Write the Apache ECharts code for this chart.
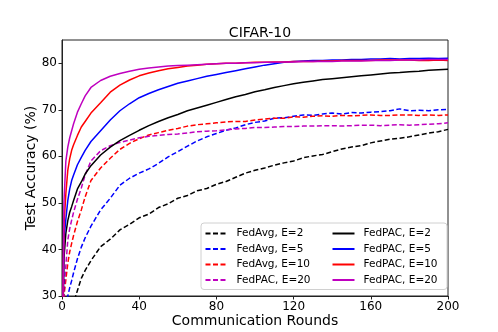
<!DOCTYPE html>
<html>
<head>
<meta charset="utf-8">
<script src="https://cdn.jsdelivr.net/npm/echarts@6/dist/echarts.min.js"></script>
<style>
  html, body { margin: 0; padding: 0; background: #fff; }
  #chart { width: 498px; height: 332px; }
</style>
</head>
<body>
<div id="chart"></div>
<script>
// communication rounds at which the curves were read
const rounds = [0, 1, 2, 3, 4, 5, 6, 8, 10, 12, 15,
  20, 25, 30, 35, 40, 45, 50, 55, 60, 65, 70, 75, 80, 85, 90, 95, 100,
  105, 110, 115, 120, 125, 130, 135, 140, 145, 150, 155, 160, 165, 170,
  175, 180, 185, 190, 195, 200];

// test accuracy (%)
const avgE2 = [10, 14, 18, 21, 24, 26.5, 28.5, 31.2, 33.8, 35.5, 37.6,
  40.6, 42.2, 44.2, 45.4, 46.8, 47.6, 49.0, 49.8, 51.0, 51.6, 52.6, 53.1, 54.0, 54.6, 55.5, 56.4, 57.0,
  57.5, 58.1, 58.6, 59.0, 59.7, 60.1, 60.4, 61.0, 61.6, 62.0, 62.3, 62.9, 63.3, 63.7,
  63.9, 64.2, 64.6, 65.0, 65.3, 65.8];
const avgE5 = [10, 18, 25, 30, 31.8, 33.3, 35, 38, 40.5, 42.5, 45,
  48.5, 51, 53.8, 55.3, 56.4, 57.3, 58.5, 59.9, 61.0, 62.2, 63.3, 64.2, 64.9, 65.6, 66.1, 66.8, 67.3,
  67.6, 68.2, 68.3, 68.6, 68.9, 68.8, 69.1, 69.3, 69.1, 69.4, 69.3, 69.5, 69.6, 69.8,
  70.2, 69.8, 69.9, 69.8, 70.0, 70.1];
const avgE10 = [10, 30, 33.5, 37, 39.5, 41.3, 43, 46, 48.5, 51.3, 54.8,
  57.5, 59.6, 61.5, 62.8, 63.8, 64.6, 65.1, 65.6, 66.0, 66.5, 66.8, 67.0, 67.2, 67.4, 67.5, 67.5, 67.8,
  68.0, 68.2, 68.2, 68.5, 68.4, 68.6, 68.7, 68.6, 68.8, 68.7, 68.8, 68.9, 68.8, 68.8,
  68.9, 68.9, 68.8, 68.9, 68.8, 68.9];
const avgE20 = [10, 31, 36.5, 42, 44.5, 46.3, 48, 50.8, 53.2, 56, 59,
  61.2, 62.3, 63.0, 63.5, 64.0, 64.3, 64.5, 64.7, 64.8, 65.0, 65.3, 65.4, 65.5, 65.7, 65.9, 66.0, 66.2,
  66.2, 66.3, 66.4, 66.4, 66.5, 66.5, 66.6, 66.6, 66.5, 66.6, 66.7, 66.7, 66.6, 66.7,
  66.8, 66.7, 66.8, 66.9, 67.0, 67.2];
const pacE2 = [10, 38, 43.5, 46.2, 48, 49.2, 50.5, 53, 54.5, 56.2, 58,
  60.3, 62.0, 63.4, 64.5, 65.6, 66.6, 67.5, 68.3, 69.0, 69.8, 70.4, 71.0, 71.6, 72.2, 72.8, 73.3, 73.9,
  74.3, 74.8, 75.2, 75.6, 75.9, 76.2, 76.5, 76.7, 76.9, 77.1, 77.3, 77.5, 77.7, 77.9,
  78.0, 78.2, 78.3, 78.5, 78.6, 78.7];
const pacE5 = [10, 42, 46.5, 50.5, 53, 54.8, 56, 58.2, 59.8, 61.3, 63.2,
  65.5, 67.8, 69.8, 71.3, 72.6, 73.5, 74.3, 75.0, 75.7, 76.2, 76.7, 77.2, 77.6, 78.0, 78.4, 78.8, 79.2,
  79.6, 79.9, 80.2, 80.4, 80.5, 80.6, 80.6, 80.7, 80.7, 80.8, 80.8, 80.9, 80.9, 81.0,
  80.9, 81.0, 81.0, 81.1, 81.0, 81.1];
const pacE10 = [10, 45, 52, 57, 59.5, 61.3, 62.5, 64.5, 66.3, 67.5, 69.3,
  71.5, 73.8, 75.3, 76.4, 77.3, 77.9, 78.4, 78.8, 79.1, 79.4, 79.6, 79.8, 79.9, 80.0, 80.0, 80.1, 80.2,
  80.2, 80.3, 80.3, 80.4, 80.4, 80.4, 80.5, 80.5, 80.6, 80.6, 80.6, 80.6, 80.7, 80.7,
  80.7, 80.7, 80.6, 80.6, 80.7, 80.6];
const pacE20 = [10, 50, 59, 62, 64, 65.5, 67, 69.5, 71.3, 73, 74.8,
  76.3, 77.2, 77.8, 78.3, 78.7, 79.0, 79.2, 79.4, 79.5, 79.6, 79.7, 79.8, 79.9, 80.0, 80.0, 80.1, 80.1,
  80.2, 80.2, 80.3, 80.3, 80.4, 80.4, 80.4, 80.4, 80.5, 80.5, 80.5, 80.6, 80.6, 80.6,
  80.7, 80.7, 80.7, 80.8, 80.8, 80.8];

const xTicks = [0, 40, 80, 120, 160, 200];
const yTicks = [30, 40, 50, 60, 70, 80];

const FONT = 'DejaVu Sans';
const MAGENTA = '#bf00bf';

function line(name, values, color, dashed) {
  return {
    name: name,
    type: 'line',
    data: rounds.map((r, i) => [r, values[i]]),
    showSymbol: false,
    symbol: 'none',
    smooth: false,
    clip: true,
    itemStyle: { color: color },
    lineStyle: { color: color, width: 1.5, type: dashed ? [5, 2.5] : 'solid' },
    emphasis: { disabled: true },
    z: dashed ? 2 : 3,
  };
}

const chart = echarts.init(document.getElementById('chart'), null, { renderer: 'canvas' });

const legendCommon = {
  orient: 'vertical',
  top: 228,
  itemWidth: 22,
  itemHeight: 11,
  itemGap: 4.5,
  itemStyle: { opacity: 0 },
  textStyle: { fontFamily: FONT, fontSize: 10.5, color: '#000', padding: [0, 0, 0, 4] },
  padding: 0,
  z: 5,
};

chart.setOption({
  animation: false,
  backgroundColor: '#fff',
  title: {
    text: 'CIFAR-10',
    left: 255,
    top: 21,
    textAlign: 'center',
    textStyle: { fontFamily: FONT, fontSize: 14, fontWeight: 'normal', color: '#000' },
  },
  grid: {
    left: 62, right: 50, top: 40, bottom: 36,
    containLabel: false,
    outerBoundsMode: 'none',
    show: true,
    borderColor: '#222',
    borderWidth: 1,
    backgroundColor: 'transparent',
  },
  legend: [
    Object.assign({}, legendCommon, {
      left: 204.5,
      data: ['FedAvg, E=2', 'FedAvg, E=5', 'FedAvg, E=10', 'FedPAC, E=20 '],
    }),
    Object.assign({}, legendCommon, {
      left: 331.5,
      data: ['FedPAC, E=2', 'FedPAC, E=5', 'FedPAC, E=10', 'FedPAC, E=20'],
    }),
  ],
  graphic: [{
    type: 'rect',
    left: 200.5,
    top: 222.5,
    z: 4,
    shape: { width: 246, height: 66.5, r: 3 },
    style: { fill: 'rgba(255,255,255,0.85)', stroke: '#d0d0d0', lineWidth: 1 },
    silent: true,
  }],
  xAxis: {
    type: 'value',
    min: 0,
    max: 200,
    interval: 40,
    name: 'Communication Rounds',
    nameLocation: 'middle',
    nameGap: 18,
    nameMoveOverlap: false,
    nameTextStyle: { fontFamily: FONT, fontSize: 14, color: '#000', verticalAlign: 'top' },
    axisLine: { show: true, onZero: false, lineStyle: { color: '#222', width: 1 } },
    axisTick: { show: true, inside: false, length: 3.5, lineStyle: { color: '#222' } },
    axisLabel: {
      fontFamily: FONT, fontSize: 12, color: '#000', margin: 5,
      formatter: v => (xTicks.indexOf(v) >= 0 ? String(v) : ''),
    },
    splitLine: { show: false },
  },
  yAxis: {
    type: 'value',
    min: 30,
    max: 85,
    interval: 10,
    name: 'Test Accuracy (%)',
    nameLocation: 'middle',
    nameGap: 24,
    nameMoveOverlap: false,
    nameTextStyle: { fontFamily: FONT, fontSize: 14, color: '#000' },
    axisLine: { show: true, onZero: false, lineStyle: { color: '#222', width: 1 } },
    axisTick: { show: true, inside: false, length: 3.5, lineStyle: { color: '#222' } },
    axisLabel: {
      fontFamily: FONT, fontSize: 12, color: '#000', margin: 5,
      showMaxLabel: false,
      formatter: v => (yTicks.indexOf(v) >= 0 ? String(v) : ''),
    },
    splitLine: { show: false },
  },
  series: [
    line('FedAvg, E=2', avgE2, '#000000', true),
    line('FedAvg, E=5', avgE5, '#0000ff', true),
    line('FedAvg, E=10', avgE10, '#ff0000', true),
    line('FedPAC, E=20 ', avgE20, MAGENTA, true),
    line('FedPAC, E=2', pacE2, '#000000', false),
    line('FedPAC, E=5', pacE5, '#0000ff', false),
    line('FedPAC, E=10', pacE10, '#ff0000', false),
    line('FedPAC, E=20', pacE20, MAGENTA, false),
  ],
});
</script>
</body>
</html>
